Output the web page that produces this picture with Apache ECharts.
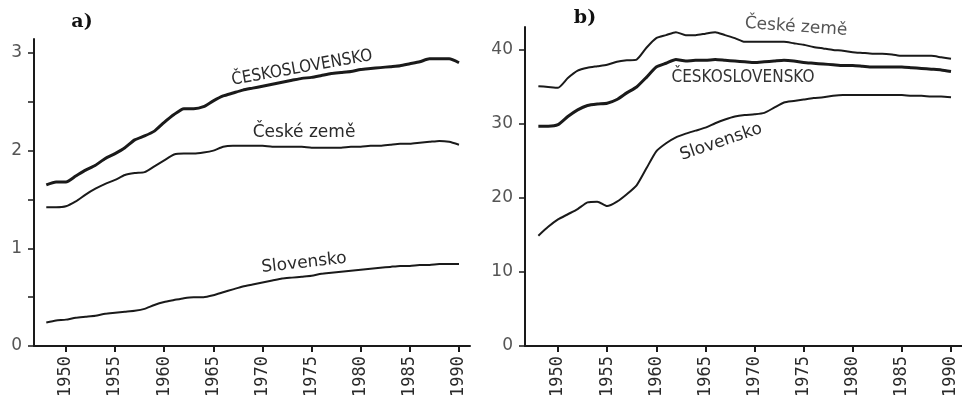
<!DOCTYPE html>
<html><head><meta charset="utf-8">
<script src="https://cdn.jsdelivr.net/npm/echarts@6/dist/echarts.min.js"></script>
<style>html,body{margin:0;padding:0;background:#fff}#c{width:962px;height:400px}</style>
</head><body><div id="c"></div>
<script>
const years = [];
for (let y = 1948; y <= 1990; y++) years.push(y);
const tickYears = [1950, 1955, 1960, 1965, 1970, 1975, 1980, 1985, 1990];

// Panel a)
const csA = [1.65,1.68,1.68,1.74,1.80,1.85,1.92,1.97,2.03,2.11,2.15,2.20,2.29,2.37,2.43,2.43,2.45,2.51,2.56,2.59,2.62,2.64,2.66,2.68,2.70,2.72,2.74,2.75,2.77,2.79,2.80,2.81,2.83,2.84,2.85,2.86,2.87,2.89,2.91,2.94,2.94,2.94,2.90];
const czA = [1.42,1.42,1.43,1.48,1.55,1.61,1.66,1.70,1.75,1.77,1.78,1.84,1.90,1.96,1.97,1.97,1.98,2.00,2.04,2.05,2.05,2.05,2.05,2.04,2.04,2.04,2.04,2.03,2.03,2.03,2.03,2.04,2.04,2.05,2.05,2.06,2.07,2.07,2.08,2.09,2.10,2.09,2.06];
const skA = [0.24,0.26,0.27,0.29,0.30,0.31,0.33,0.34,0.35,0.36,0.38,0.42,0.45,0.47,0.49,0.50,0.50,0.52,0.55,0.58,0.61,0.63,0.65,0.67,0.69,0.70,0.71,0.72,0.74,0.75,0.76,0.77,0.78,0.79,0.80,0.81,0.82,0.82,0.83,0.83,0.84,0.84,0.84];
const yTicksA = [0, 0.5, 1, 1.5, 2, 2.5, 3];
const yLabelsA = [0, 1, 2, 3];

// Panel b)
const czB = [35.1,35.0,34.9,36.2,37.2,37.6,37.8,38.0,38.4,38.6,38.7,40.3,41.6,42.0,42.4,42.0,42.0,42.2,42.4,42.0,41.6,41.1,41.1,41.1,41.1,41.1,40.9,40.7,40.4,40.2,40.0,39.9,39.7,39.6,39.5,39.5,39.4,39.2,39.2,39.2,39.2,39.0,38.8];
const csB = [29.7,29.7,29.9,31.0,31.9,32.5,32.7,32.8,33.3,34.2,35.0,36.3,37.7,38.2,38.7,38.5,38.6,38.6,38.7,38.6,38.5,38.4,38.3,38.4,38.5,38.6,38.5,38.3,38.2,38.1,38.0,37.9,37.9,37.8,37.7,37.7,37.7,37.7,37.6,37.5,37.4,37.3,37.1];
const skB = [14.9,16.1,17.1,17.8,18.5,19.4,19.5,18.9,19.5,20.5,21.7,24.0,26.3,27.4,28.2,28.7,29.1,29.5,30.1,30.6,31.0,31.2,31.3,31.5,32.2,32.9,33.1,33.3,33.5,33.6,33.8,33.9,33.9,33.9,33.9,33.9,33.9,33.9,33.8,33.8,33.7,33.7,33.6];
const yLabelsB = [0, 10, 20, 30, 40];

const pair = arr => arr.map((v, i) => [years[i], v]);
const ink = '#1a1a1a';

function xAx(grid, min) {
  return {
    type: 'value', gridIndex: grid, min: min, max: 1991.12,
    axisLine: {show: true, onZero: false, lineStyle: {color: ink, width: 2}},
    axisTick: {show: true, customValues: tickYears, length: 6, lineStyle: {color: ink, width: 2}},
    axisLabel: {customValues: tickYears, rotate: 90, margin: 10, color: '#2a2a2a',
      fontFamily: 'DejaVu Sans Mono', fontSize: 17, formatter: v => String(Math.round(v))},
    splitLine: {show: false}
  };
}
function yAx(grid, max, ticks, labels, margin) {
  return {
    type: 'value', gridIndex: grid, min: 0, max: max,
    axisLine: {show: true, lineStyle: {color: ink, width: 2}},
    axisTick: {show: true, customValues: ticks, length: 6, lineStyle: {color: ink, width: 1.5}},
    axisLabel: {customValues: labels, margin: margin, color: '#555',
      fontFamily: 'DejaVu Sans', fontSize: 17},
    splitLine: {show: false}
  };
}
function line(xi, data, w, name) {
  return {type: 'line', name: name, xAxisIndex: xi, yAxisIndex: xi, data: pair(data),
    showSymbol: false, smooth: 0.2, lineStyle: {color: ink, width: w}, silent: true};
}
function txt(x, y, text, rot, size, color, font, weight) {
  return {type: 'text', x: x, y: y, rotation: rot, silent: true,
    style: {text: text, fill: color || '#2a2a2a', font: (weight || 'normal') + ' ' + size + 'px ' + (font || '"DejaVu Sans"'),
      align: 'center', verticalAlign: 'middle'}};
}

const chart = echarts.init(document.getElementById('c'), null, {renderer: 'canvas'});
chart.setOption({
  animation: false,
  backgroundColor: '#ffffff',
  grid: [
    {left: 34, top: 39, width: 436, height: 307},
    {left: 525, top: 27, width: 437, height: 319}
  ],
  xAxis: [xAx(0, 1946.75), xAx(1, 1946.64)],
  yAxis: [yAx(0, 3.143, yTicksA, yLabelsA, 12), yAx(1, 43.1, yLabelsB, yLabelsB, 12)],
  series: [
    line(0, csA, 3, 'ČESKOSLOVENSKO'),
    line(0, czA, 2, 'České země'),
    line(0, skA, 2, 'Slovensko'),
    line(1, czB, 2, 'České země'),
    line(1, csB, 3, 'ČESKOSLOVENSKO'),
    line(1, skB, 2, 'Slovensko')
  ],
  graphic: [
    txt(82, 22, 'a)', 0, 19, '#111', '"DejaVu Serif"', 'bold'),
    txt(585, 18, 'b)', 0, 19, '#111', '"DejaVu Serif"', 'bold'),
    txt(302, 68, 'ČESKOSLOVENSKO', 0.175, 17, '#2a2a2a', '"DejaVu Sans Condensed", "DejaVu Sans"'),
    txt(304, 133, 'České země', 0, 17, '#2a2a2a'),
    txt(304, 263, 'Slovensko', 0.11, 17, '#2a2a2a'),
    txt(796, 27, 'České země', -0.07, 17, '#555'),
    txt(743, 78, 'ČESKOSLOVENSKO', 0, 17, '#333', '"DejaVu Sans Condensed", "DejaVu Sans"'),
    txt(721, 142, 'Slovensko', 0.33, 17, '#2a2a2a')
  ]
});
</script></body></html>
